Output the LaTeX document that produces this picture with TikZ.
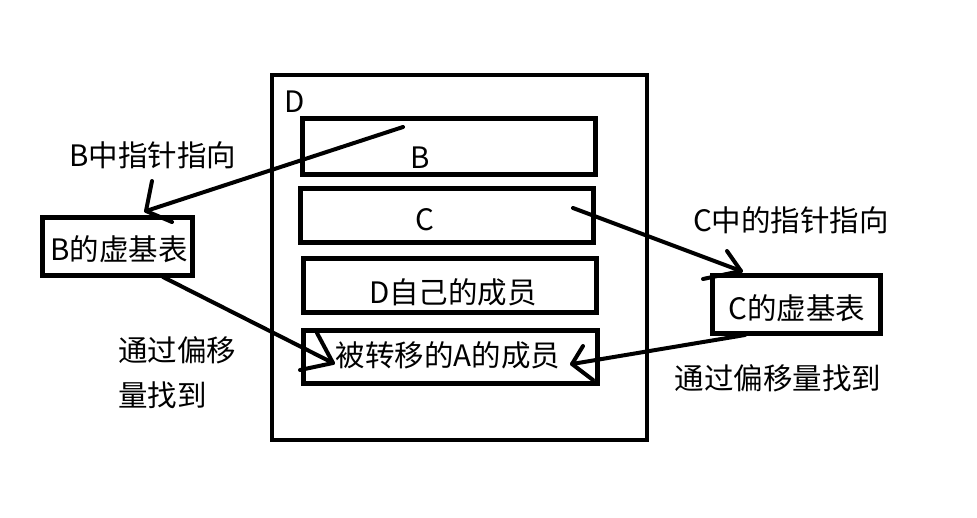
\documentclass[tikz,border=0pt]{standalone}
\usepackage{fontspec}
\setmainfont{Noto Sans CJK SC}
\begin{document}
\begin{tikzpicture}[x=1pt,y=-1pt,
  box/.style={draw=black, line width=5pt, inner sep=0pt, fill=none},
  outerbox/.style={draw=black, line width=4pt, inner sep=0pt},
  lbl/.style={inner sep=0pt, font=\fontsize{29.5}{32}\selectfont},
  conn/.style={line width=4pt, line cap=round, line join=round}]
\useasboundingbox[fill=white] (0,0) rectangle (977,517);
% outer D box
\node[outerbox, minimum width=375pt, minimum height=365pt] (Dbox) at (459.5,257.5) {};
\node[lbl, anchor=west] (Dlbl) at (284,102) {D};
% inner boxes
\node[box, minimum width=293pt, minimum height=56pt] (Bbox) at (448.5,146) {};
\node[lbl] (Blbl) at (420,158) {B};
\node[box, minimum width=293pt, minimum height=54pt] (Cbox) at (446.5,215) {};
\node[lbl] (Clbl) at (425,220) {C};
\node[box, minimum width=293pt, minimum height=54pt] (Sbox) at (449.5,285) {};
\node[lbl] (Slbl) at (453,292) {D自己的成员};
\node[box, minimum width=294pt, minimum height=53pt] (Abox) at (450,356.5) {};
\node[lbl] (Albl) at (448,355) {被转移的A的成员};
% virtual base tables
\node[box, minimum width=150pt, minimum height=58pt] (BV) at (117,246) {};
\node[lbl] (BVlbl) at (119,249) {B的虚基表};
\node[box, minimum width=168pt, minimum height=58pt] (CV) at (796,304) {};
\node[lbl] (CVlbl) at (797,308) {C的虚基表};
% annotations
\node[lbl] (t1) at (153,155) {B中指针指向};
\node[lbl, anchor=west] (t2a) at (118,350) {通过偏移};
\node[lbl, anchor=west] (t2b) at (118,395) {量找到};
\node[lbl] (t3) at (791,220) {C中的指针指向};
\node[lbl] (t4) at (778,378) {通过偏移量找到};
% arrow 1: B -> B vbt
\coordinate (a1s) at (403,127);
\coordinate (a1t) at (146,211);
\coordinate (a1p) at (152,181);
\coordinate (a1q) at (172,222);
\draw[conn] (a1s) -- (a1t);
\draw[conn] (a1p) -- (a1t) -- (a1q);
% arrow 2: B vbt -> A
\coordinate (a2s) at (163,277);
\coordinate (a2t) at (333,363);
\coordinate (a2p) at (317,333);
\coordinate (a2q) at (300,370);
\draw[conn] (a2s) -- (a2t);
\draw[conn] (a2p) -- (a2t) -- (a2q);
% arrow 3: C -> C vbt
\coordinate (a3s) at (573,208);
\coordinate (a3t) at (741,271);
\coordinate (a3p) at (727,251);
\coordinate (a3q) at (703,279);
\draw[conn] (a3s) -- (a3t);
\draw[conn] (a3p) -- (a3t) -- (a3q);
% arrow 4: C vbt -> A
\coordinate (a4s) at (745,335);
\coordinate (a4t) at (572,364);
\coordinate (a4p) at (583,346);
\coordinate (a4q) at (593,380);
\draw[conn] (a4s) -- (a4t);
\draw[conn] (a4p) -- (a4t) -- (a4q);
\end{tikzpicture}
\end{document}
